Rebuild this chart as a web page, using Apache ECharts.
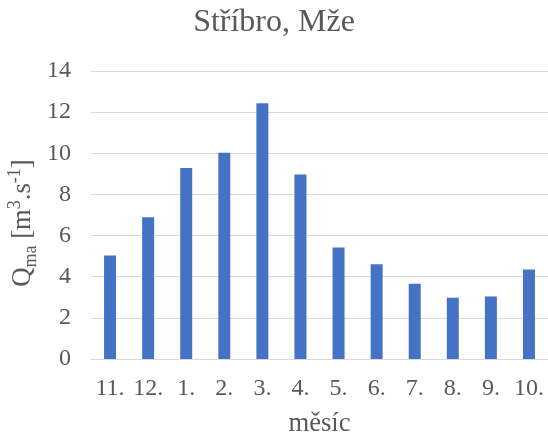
<!DOCTYPE html>
<html>
<head>
<meta charset="utf-8">
<script src="https://cdn.jsdelivr.net/npm/echarts@6/dist/echarts.min.js"></script>
<style>
  html, body { margin: 0; padding: 0; background: #fff; }
  #chart { width: 548px; height: 441px; }
</style>
</head>
<body>
<div id="chart"></div>
<script>
// Months of the hydrological year (November to October)
const months = ['11.', '12.', '1.', '2.', '3.', '4.', '5.', '6.', '7.', '8.', '9.', '10.'];
// Long-term mean monthly discharge Qma [m3/s]
const discharge = [5.03, 6.89, 9.29, 10.03, 12.43, 8.97, 5.42, 4.61, 3.66, 2.98, 3.04, 4.35];
// Value axis ticks
const yMin = 0;
const yMax = 14;
const yStep = 2;

const FONT = '"Liberation Serif", "Times New Roman", serif';
const TEXT = '#595959';
const NAME_SIZE = 26.67;
const SMALL_SIZE = 18;

const chart = echarts.init(document.getElementById('chart'), null, { renderer: 'canvas' });
chart.setOption({
  animation: false,
  backgroundColor: '#ffffff',
  title: {
    text: 'Stříbro, Mže',
    left: 'center',
    top: 2,
    textStyle: { fontFamily: FONT, fontSize: 32, fontWeight: 'normal', color: TEXT }
  },
  grid: { left: 91, right: 0, top: 71, bottom: 82, containLabel: false, outerBoundsMode: 'none' },
  xAxis: {
    type: 'category',
    data: months,
    axisLine: { lineStyle: { color: '#d9d9d9', width: 1 } },
    axisTick: { show: false },
    axisLabel: { fontFamily: FONT, fontSize: 24, color: TEXT, margin: 18, interval: 0, hideOverlap: false },
    name: 'měsíc',
    nameLocation: 'middle',
    nameGap: 51,
    nameMoveOverlap: false,
    nameTextStyle: { fontFamily: FONT, fontSize: NAME_SIZE, color: TEXT }
  },
  yAxis: {
    type: 'value',
    min: yMin,
    max: yMax,
    interval: yStep,
    axisLine: { show: false },
    axisTick: { show: false },
    splitLine: { lineStyle: { color: '#d9d9d9', width: 1 } },
    axisLabel: { fontFamily: FONT, fontSize: 24, color: TEXT, margin: 20 },
    name: '{m|Q}{sub|ma}{m| [m}{sup|3}{m|.s}{sup|-1}{m|]}',
    nameLocation: 'middle',
    nameRotate: 90,
    nameGap: 51,
    nameMoveOverlap: false,
    nameTextStyle: {
      fontFamily: FONT,
      color: TEXT,
      padding: [0, 16, 0, 0],
      rich: {
        m: { fontFamily: FONT, fontSize: NAME_SIZE, color: TEXT, lineHeight: 34 },
        sub: { fontFamily: FONT, fontSize: SMALL_SIZE, color: TEXT, verticalAlign: 'bottom', lineHeight: 34 },
        sup: { fontFamily: FONT, fontSize: SMALL_SIZE, color: TEXT, verticalAlign: 'top', lineHeight: 34 }
      }
    }
  },
  series: [{
    type: 'bar',
    data: discharge,
    barWidth: 12,
    itemStyle: { color: '#4472c4' }
  }]
});
</script>
</body>
</html>
